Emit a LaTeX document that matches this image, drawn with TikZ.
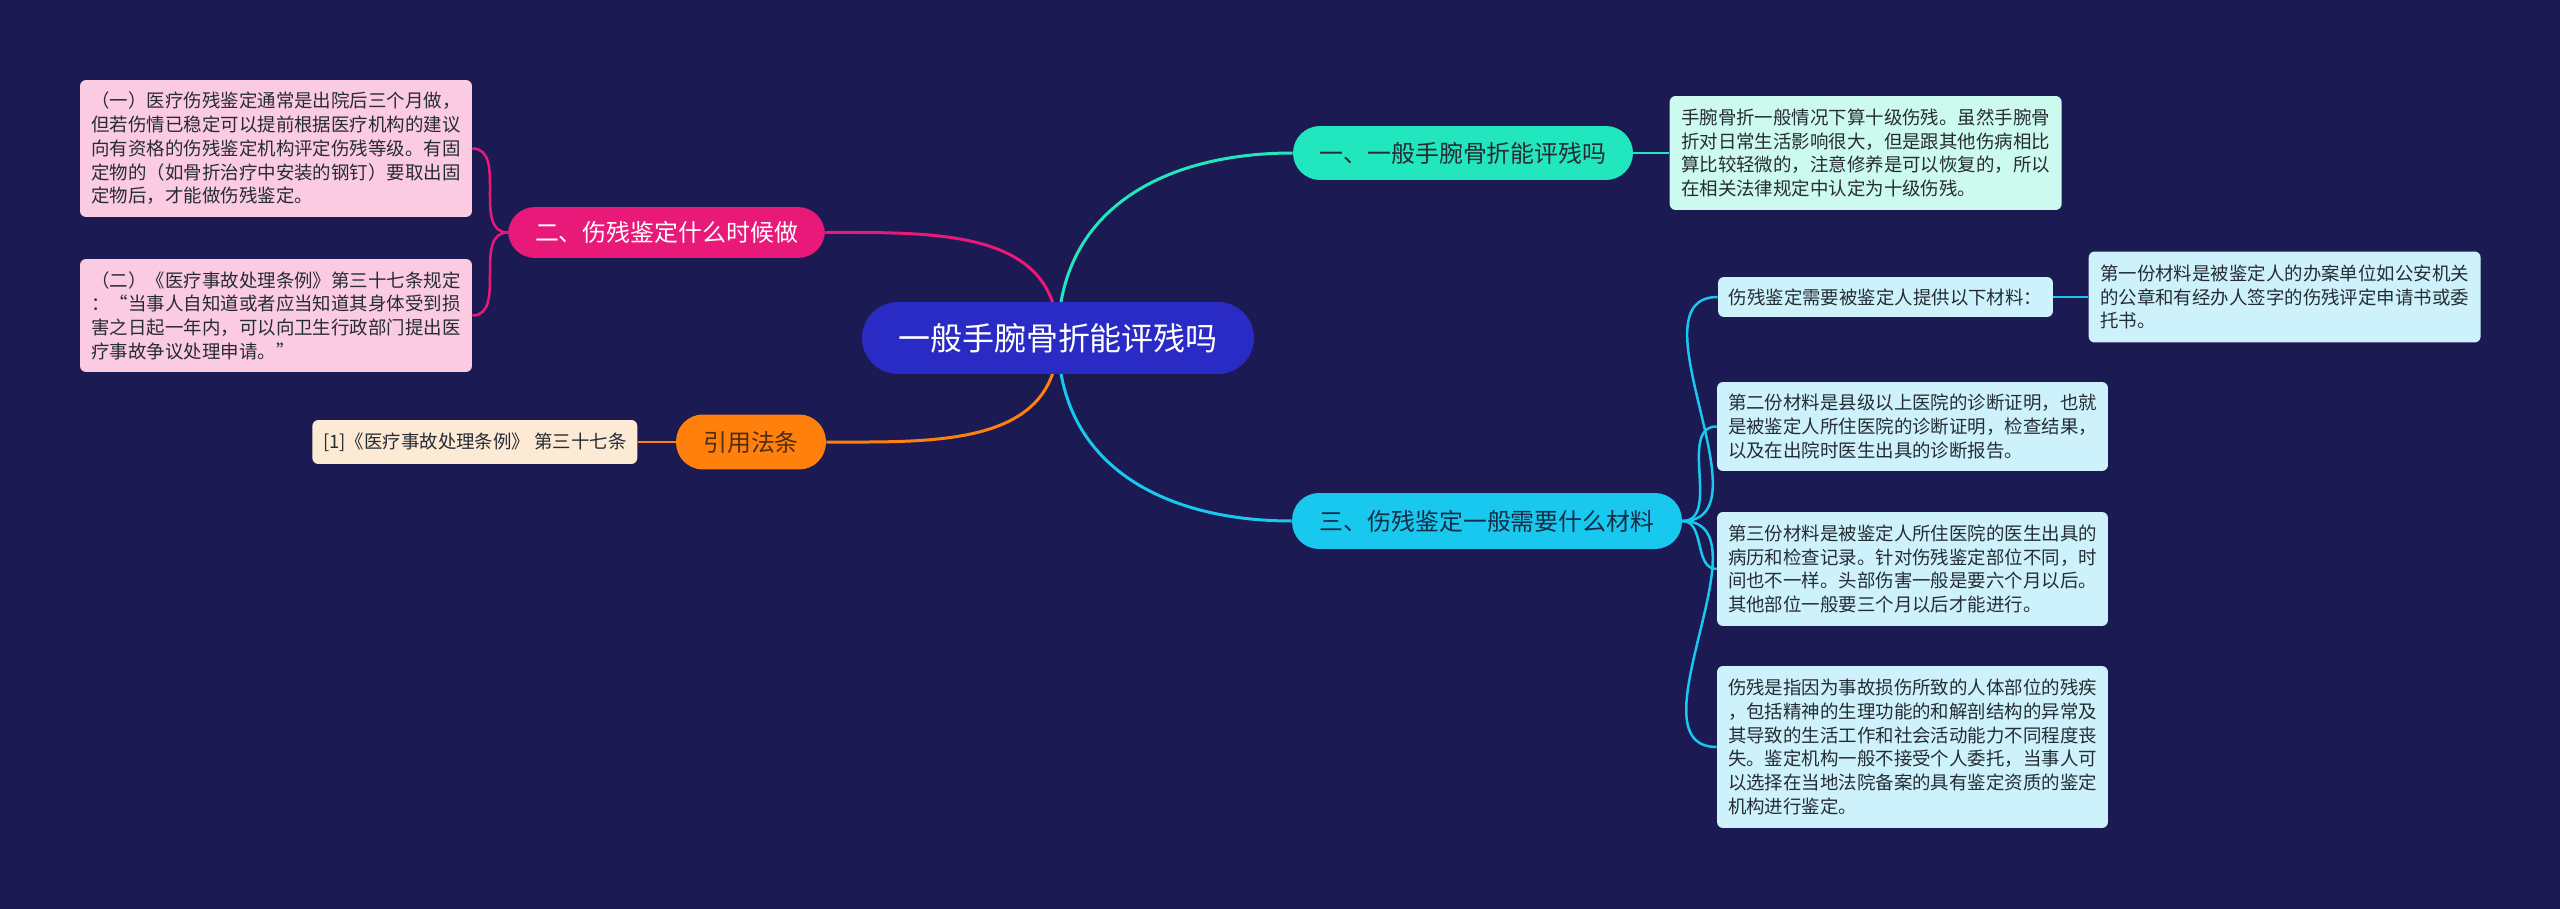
\documentclass[tikz,border=0pt]{standalone}
\usepackage{fontspec}
\setmainfont{Noto Sans CJK SC}
\usepackage{xcolor}
\usepackage{tikz}
\usetikzlibrary{positioning}
\definecolor{bgnavy}{RGB}{27,26,82}
\definecolor{rootblue}{RGB}{42,42,196}
\definecolor{tealc}{RGB}{34,230,190}
\definecolor{tealnote}{RGB}{205,250,238}
\definecolor{magc}{RGB}{232,25,120}
\definecolor{pinknote}{RGB}{251,203,226}
\definecolor{orangec}{RGB}{255,128,12}
\definecolor{creamnote}{RGB}{253,234,212}
\definecolor{cyanc}{RGB}{24,200,238}
\definecolor{cyannote}{RGB}{205,242,251}
\definecolor{darktext}{RGB}{38,44,52}
\pgfdeclarelayer{bglayer}
\pgfdeclarelayer{linklayer}
\pgfsetlayers{bglayer,linklayer,main}

\begin{document}
\begin{tikzpicture}[
        x=0.02cm, y=-0.02cm,
        root/.style = {rectangle, rounded corners=0.72cm, fill=rootblue, text=white, minimum width=7.84cm, minimum height=1.44cm, inner sep=0pt, font=\fontsize{18.2}{22}\selectfont},
        branch/.style = {rectangle, rounded corners=0.54cm, minimum height=1.08cm, inner sep=0pt, font=\fontsize{13.6}{16}\selectfont},
        note/.style = {rectangle, rounded corners=0.12cm, align=left, inner sep=0pt, text=darktext, font=\fontsize{10.5}{13.5}\selectfont},
        link/.style = {line width=0.06cm},
        sublink/.style = {line width=0.05cm}
    ]

        % Background
        \begin{pgfonlayer}{bglayer}
        \fill[bgnavy] (0,0) rectangle (2560,909);
        \end{pgfonlayer}

        % Central topic
        \node (root) [root] at (1058,338) {一般手腕骨折能评残吗};

        % Main branches
        \node (q1) [branch, fill=tealc, text=darktext, minimum width=6.8cm] at (1463,153) {一、一般手腕骨折能评残吗};
        \node (q2) [branch, fill=magc, text=white, minimum width=6.34cm, minimum height=1.02cm] at (666.5,232.5) {二、伤残鉴定什么时候做};
        \node (cite) [branch, fill=orangec, text={rgb,255:red,80;green,45;blue,15}, minimum width=3.0cm, minimum height=1.1cm] at (751,442) {引用法条};
        \node (q3) [branch, fill=cyanc, text={rgb,255:red,20;green,45;blue,70}, minimum width=7.8cm, minimum height=1.12cm] at (1487,521) {三、伤残鉴定一般需要什么材料};

        % Notes of branch one
        \node (q1note) [note, fill=tealnote, minimum width=7.84cm, minimum height=2.28cm, right=0.72cm of q1] {手腕骨折一般情况下算十级伤残。虽然手腕骨\\折对日常生活影响很大，但是跟其他伤病相比\\算比较轻微的，注意修养是可以恢复的，所以\\在相关法律规定中认定为十级伤残。};

        % Notes of branch two
        \node (q2noteA) [note, fill=pinknote, minimum width=7.84cm, minimum height=2.74cm] at (276,148.5) {（一）医疗伤残鉴定通常是出院后三个月做，\\但若伤情已稳定可以提前根据医疗机构的建议\\向有资格的伤残鉴定机构评定伤残等级。有固\\定物的（如骨折治疗中安装的钢钉）要取出固\\定物后，才能做伤残鉴定。};
        \node (q2noteB) [note, fill=pinknote, minimum width=7.84cm, minimum height=2.26cm] at (276,315.5) {（二）《医疗事故处理条例》第三十七条规定\\：“当事人自知道或者应当知道其身体受到损\\害之日起一年内，可以向卫生行政部门提出医\\疗事故争议处理申请。”};

        % Cited law
        \node (citeref) [note, fill=creamnote, minimum width=6.5cm, minimum height=0.88cm, left=0.76cm of cite] {[1]《医疗事故处理条例》 第三十七条};

        % Notes of branch three
        \node (mat0) [note, fill=cyannote, minimum width=6.7cm, minimum height=0.8cm] at (1885.5,297) {伤残鉴定需要被鉴定人提供以下材料：};
        \node (mat0a) [note, fill=cyannote, minimum width=7.84cm, minimum height=1.82cm, right=0.7cm of mat0] {第一份材料是被鉴定人的办案单位如公安机关\\的公章和有经办人签字的伤残评定申请书或委\\托书。};
        \node (mat1) [note, fill=cyannote, minimum width=7.82cm, minimum height=1.78cm] at (1912.5,426.5) {第二份材料是县级以上医院的诊断证明，也就\\是被鉴定人所住医院的诊断证明，检查结果，\\以及在出院时医生出具的诊断报告。};
        \node (mat2) [note, fill=cyannote, minimum width=7.82cm, minimum height=2.28cm] at (1912.5,569) {第三份材料是被鉴定人所住医院的医生出具的\\病历和检查记录。针对伤残鉴定部位不同，时\\间也不一样。头部伤害一般是要六个月以后。\\其他部位一般要三个月以后才能进行。};
        \node (mat3) [note, fill=cyannote, minimum width=7.82cm, minimum height=3.24cm] at (1912.5,747) {伤残是指因为事故损伤所致的人体部位的残疾\\，包括精神的生理功能的和解剖结构的异常及\\其导致的生活工作和社会活动能力不同程度丧\\失。鉴定机构一般不接受个人委托，当事人可\\以选择在当地法院备案的具有鉴定资质的鉴定\\机构进行鉴定。};

        % Connectors
        \begin{pgfonlayer}{linklayer}
        \draw [link, draw=tealc] (root.center) to[out=90, in=180, looseness=1.1] (q1.west);
        \draw [link, draw=magc] (root.center) to[out=90, in=0, looseness=1.1] (q2.east);
        \draw [link, draw=orangec] (root.center) to[out=-90, in=0, looseness=1.1] (cite.east);
        \draw [link, draw=cyanc] (root.center) to[out=-90, in=180, looseness=1.1] (q3.west);

        \draw [sublink, draw=tealc] (q1.east) -- (q1note.west);
        \draw [sublink, draw=magc] (q2.west) to[out=180, in=0] (q2noteA.east);
        \draw [sublink, draw=magc] (q2.west) to[out=180, in=0] (q2noteB.east);
        \draw [sublink, draw=orangec] (cite.west) -- (citeref.east);

        \draw [sublink, draw=cyanc] (q3.east) to[out=0, in=180] (mat0.west);
        \draw [sublink, draw=cyanc] (q3.east) to[out=0, in=180] (mat1.west);
        \draw [sublink, draw=cyanc] (q3.east) to[out=0, in=180] (mat2.west);
        \draw [sublink, draw=cyanc] (q3.east) to[out=0, in=180] (mat3.west);
        \draw [sublink, draw=cyanc] (mat0.east) -- (mat0a.west);
        \end{pgfonlayer}

    \end{tikzpicture}
\end{document}
